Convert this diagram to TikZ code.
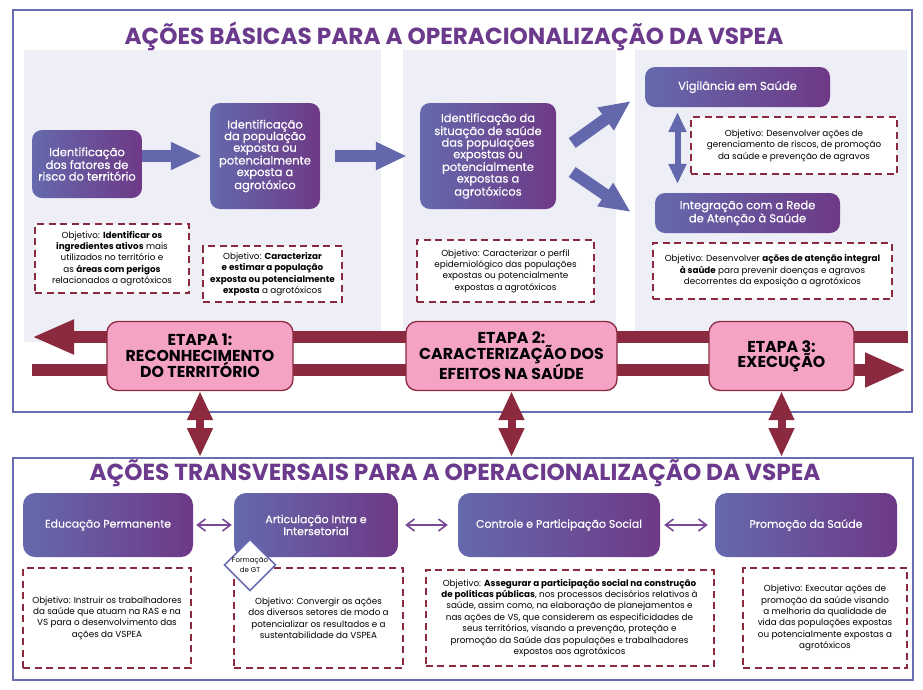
\documentclass[tikz,border=0pt]{standalone}
\usepackage{fontspec}
\setmainfont{Poppins}
\newfontfamily\popmed[FakeBold=0.35]{Poppins}
\usetikzlibrary{arrows.meta,shapes.geometric,positioning}

\definecolor{moldura}{HTML}{6A6DB2}
\definecolor{titulo}{HTML}{6C3A8C}
\definecolor{painel}{HTML}{EEEEF7}
\definecolor{azulseta}{HTML}{6368AC}
\definecolor{vinho}{HTML}{8B2A3E}
\definecolor{rosa}{HTML}{F4A3C5}
\definecolor{gradesq}{HTML}{6569AD}
\definecolor{graddir}{HTML}{6E3986}
\definecolor{lilas}{HTML}{7A4A9A}

\begin{document}
\begin{tikzpicture}[x=1pt, y=-1pt,
    quadro/.style={draw=moldura, line width=2pt, inner sep=0pt},
    tit/.style={text=titulo, font=\bfseries\fontsize{23.2}{23}\selectfont, inner sep=0pt},
    acao/.style={rounded corners=10pt, left color=gradesq, right color=graddir, text=white, align=center, inner sep=2pt, font=\popmed\fontsize{11.5}{11.6}\selectfont},
    transv/.style={acao, rounded corners=12pt, font=\popmed\fontsize{11}{12}\selectfont},
    obj/.style={draw=vinho, dash pattern=on 7pt off 4.5pt, line width=2pt, fill=white, align=center, inner sep=2pt, font=\fontsize{8.8}{11.4}\selectfont},
    etapa/.style={rounded corners=11pt, fill=rosa, draw=vinho, line width=1.3pt, align=center, font=\bfseries\fontsize{15.8}{15.4}\selectfont},
    seta/.style={draw=azulseta, line width=12pt, -{Triangle[width=26pt,length=31pt]}},
    setadupla/.style={draw=azulseta, line width=6pt, {Triangle[width=17pt,length=20pt]}-{Triangle[width=17pt,length=20pt]}},
    fluxo/.style={draw=vinho, line width=12pt},
    elo/.style={draw=vinho, line width=8pt, {Triangle[width=24pt,length=29pt]}-{Triangle[width=24pt,length=29pt]}},
    ligacao/.style={draw=lilas, line width=1.6pt, {Straight Barb[length=8pt,width=12pt]}-{Straight Barb[length=8pt,width=12pt]}},
    losango/.style={diamond, draw=moldura, line width=1.6pt, fill=white, inner sep=0pt, minimum width=48pt, minimum height=46pt, align=center, font=\fontsize{7}{10.5}\selectfont}
]
\useasboundingbox (0,0) rectangle (923,689);
\fill[white] (0,0) rectangle (923,689);

% acoes basicas
\node[quadro, minimum width=899pt, minimum height=402pt] (basicas) at (462.5,211) {};
\fill[painel] (24,50) rectangle (381,342);
\fill[painel] (403,50) rectangle (616,342);
\fill[painel] (635,50) rectangle (907,342);
\node[tit] (tit1) at (454,36) {AÇÕES BÁSICAS PARA A OPERACIONALIZAÇÃO DA VSPEA};

\node[acao, minimum width=110pt, minimum height=68pt] (ident1) at (87,164) {Identificação\\dos fatores de\\risco do território};
\node[acao, minimum width=110pt, minimum height=106pt] (ident2) at (265,156) {Identificação\\da população\\exposta ou\\potencialmente\\exposta a\\agrotóxico};
\node[acao, minimum width=136pt, minimum height=106pt] (ident3) at (488,156) {Identificação da\\situação de saúde\\das populações\\expostas ou\\potencialmente\\expostas a\\agrotóxicos};
\node[acao, minimum width=185pt, minimum height=40pt] (vig) at (737.5,87) {Vigilância em Saúde};
\node[acao, minimum width=185pt, minimum height=40pt] (integ) at (747.5,213) {Integração com a Rede\\de Atenção à Saúde};

\draw[seta, shorten >=8pt] (ident1.east |- ident2.west) -- (ident2.west);
\draw[seta, shorten <=15pt, shorten >=13pt] (ident2.east) -- (ident3.west);
\draw[seta] ([shift={(16,-13)}]ident3.east) -- ([shift={(-14,14)}]vig.west);
\draw[seta] ([shift={(16,16)}]ident3.east) -- ([shift={(-24,-1)}]integ.west);
\draw[setadupla, shorten <=5pt, shorten >=9pt] ([xshift=-60pt]vig.south) -- ([xshift=-70pt]integ.north);

\node[obj, minimum width=154pt, minimum height=69pt] (obj1) at (112,258.5) {Objetivo: \textbf{Identificar os}\\\textbf{ingredientes ativos} mais\\utilizados no território e\\as \textbf{áreas com perigos}\\relacionados a agrotóxicos};
\node[obj, minimum width=139pt, minimum height=56pt] (obj2) at (272.5,274) {Objetivo: \textbf{Caracterizar}\\\textbf{e estimar a população}\\\textbf{exposta ou potencialmente}\\\textbf{exposta} a agrotóxicos};
\node[obj, minimum width=177pt, minimum height=62pt] (obj3) at (505.5,271) {Objetivo: Caracterizar o perfil\\epidemiológico das populações\\expostas ou potencialmente\\expostas a agrotóxicos};
\node[obj, minimum width=206pt, minimum height=57pt] (obj4) at (794,145.5) {Objetivo: Desenvolver ações de\\gerenciamento de riscos, de promoção\\da saúde e prevenção de agravos};
\node[obj, minimum width=239pt, minimum height=56pt] (obj5) at (772.5,271) {Objetivo: Desenvolver \textbf{ações de atenção integral}\\\textbf{à saúde} para prevenir doenças e agravos\\decorrentes da exposição a agrotóxicos};

% etapas
\coordinate (fimsup) at (908,337);
\coordinate (pontaesq) at (32,337);
\coordinate (iniinf) at (32,370);
\coordinate (pontadir) at (906,370);
\draw[fluxo, -{Triangle[width=32pt,length=42pt]}] (fimsup) -- (pontaesq);
\draw[fluxo, -{Triangle[width=32pt,length=41pt]}] (iniinf) -- (pontadir);

\node[etapa, minimum width=186pt, minimum height=69pt] (et1) at (200,356) {ETAPA 1:\\RECONHECIMENTO\\DO TERRITÓRIO};
\node[etapa, minimum width=211pt, minimum height=69pt] (et2) at (511.5,356) {ETAPA 2:\\CARACTERIZAÇÃO DOS\\EFEITOS NA SAÚDE};
\node[etapa, minimum width=145pt, minimum height=69pt] (et3) at (781.5,356) {ETAPA 3:\\EXECUÇÃO};

% acoes transversais
\node[quadro, minimum width=900pt, minimum height=222pt] (transversais) at (463,569) {};
\node[tit] (tit2) at (455,473) {AÇÕES TRANSVERSAIS PARA A OPERACIONALIZAÇÃO DA VSPEA};

\draw[elo] (et1.south) -- (et1.south |- transversais.north);
\draw[elo] (et2.south) -- (et2.south |- transversais.north);
\draw[elo] (et3.south) -- (et3.south |- transversais.north);

\node[transv, minimum width=170pt, minimum height=64pt] (edu) at (108,525) {Educação Permanente};
\node[transv, minimum width=164pt, minimum height=64pt] (artic) at (316,525) {Articulação Intra e\\Intersetorial};
\node[transv, minimum width=202pt, minimum height=64pt] (contr) at (559,525) {Controle e Participação Social};
\node[transv, minimum width=182pt, minimum height=64pt] (prom) at (806,525) {Promoção da Saúde};

\draw[ligacao, shorten <=3pt, shorten >=2pt] (edu) -- (artic);
\draw[ligacao, shorten <=7pt, shorten >=10pt] (artic) -- (contr);
\draw[ligacao, shorten <=4pt, shorten >=7pt] (contr) -- (prom);

\node[obj, minimum width=168pt, minimum height=100pt] (objedu) at (107,618) {Objetivo: Instruir os trabalhadores\\da saúde que atuam na RAS e na\\VS para o desenvolvimento das\\ações da VSPEA};
\node[obj, minimum width=169pt, minimum height=100pt] (objartic) at (318.5,618) {Objetivo: Convergir as ações\\dos diversos setores de modo a\\potencializar os resultados e a\\sustentabilidade da VSPEA};
\node[obj, minimum width=288pt, minimum height=96pt] (objcontr) at (569.5,618) {Objetivo: \textbf{Assegurar a participação social na construção}\\\textbf{de políticas públicas}, nos processos decisórios relativos à\\saúde, assim como, na elaboração de planejamentos e\\nas ações de VS, que considerem as especificidades de\\seus territórios, visando a prevenção, proteção e\\promoção da Saúde das populações e trabalhadores\\expostos aos agrotóxicos};
\node[obj, minimum width=164pt, minimum height=100pt] (objprom) at (825,618) {Objetivo: Executar ações de\\promoção da saúde visando\\a melhoria da qualidade de\\vida das populações expostas\\ou potencialmente expostas a\\agrotóxicos};

\node[losango] (gt) at (250,565) {Formação\\de GT};
\end{tikzpicture}
\end{document}
